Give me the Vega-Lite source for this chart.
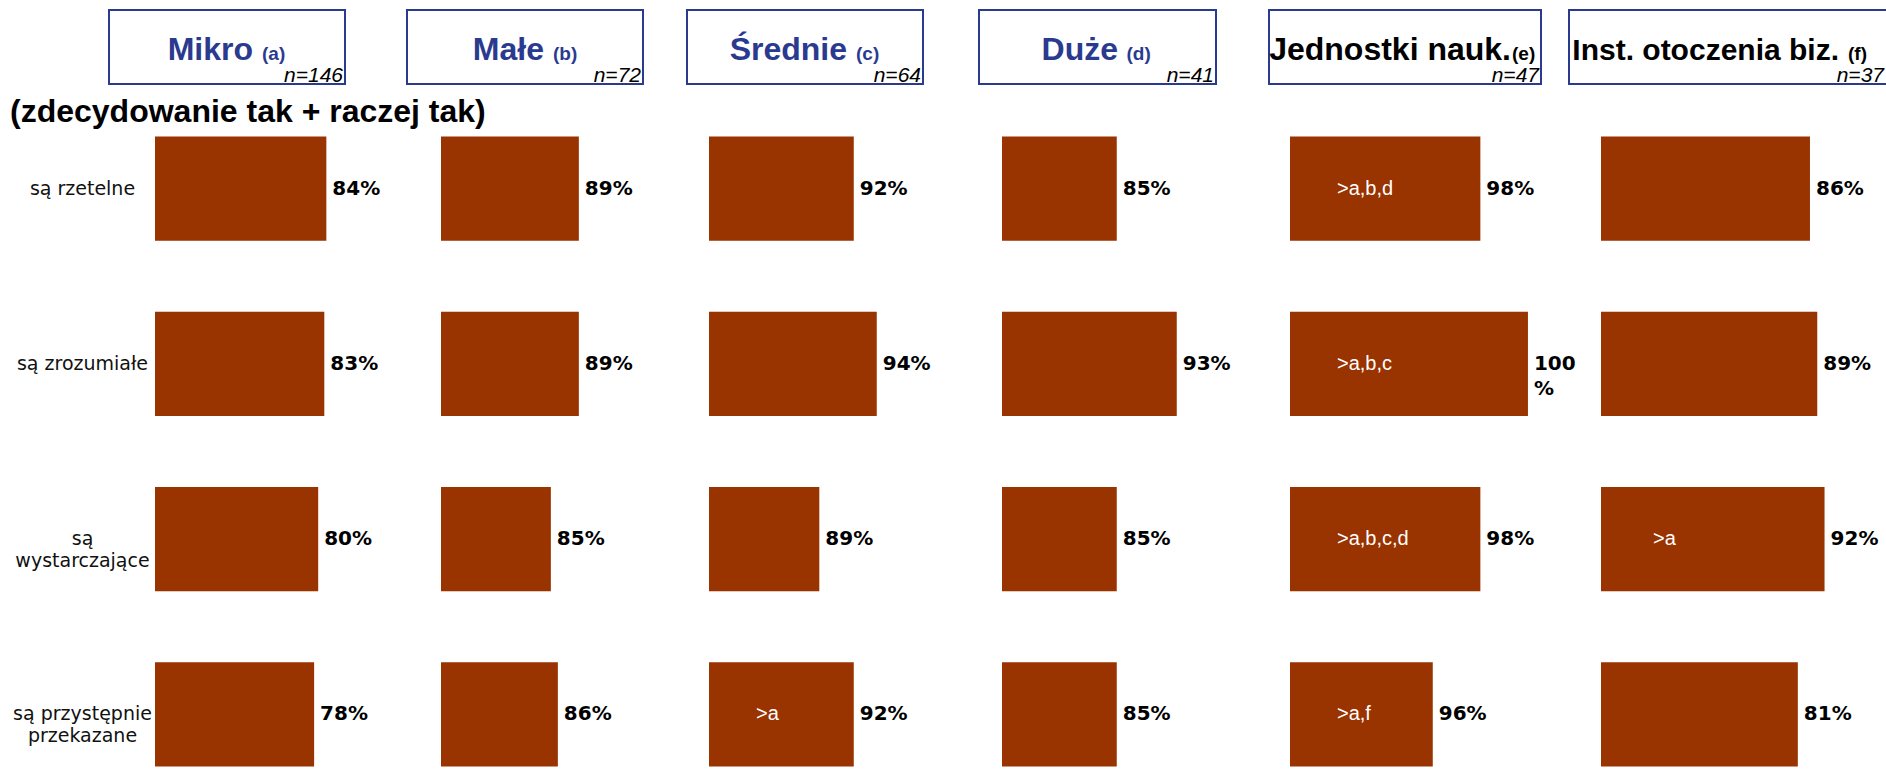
{
  "$schema": "https://vega.github.io/schema/vega-lite/v6.json",
  "background": "white",
  "padding": {"left": 9, "top": 9, "right": 0, "bottom": 0},
  "datasets": {
    "d": [
      {"group": "Mikro", "item": "są rzetelne", "value": 0.84, "ann": ""},
      {"group": "Mikro", "item": "są zrozumiałe", "value": 0.83, "ann": ""},
      {"group": "Mikro", "item": "są\nwystarczające", "value": 0.80, "ann": ""},
      {"group": "Mikro", "item": "są przystępnie\nprzekazane", "value": 0.78, "ann": ""},
      {"group": "Małe", "item": "są rzetelne", "value": 0.89, "ann": ""},
      {"group": "Małe", "item": "są zrozumiałe", "value": 0.89, "ann": ""},
      {"group": "Małe", "item": "są\nwystarczające", "value": 0.85, "ann": ""},
      {"group": "Małe", "item": "są przystępnie\nprzekazane", "value": 0.86, "ann": ""},
      {"group": "Średnie", "item": "są rzetelne", "value": 0.92, "ann": ""},
      {"group": "Średnie", "item": "są zrozumiałe", "value": 0.94, "ann": ""},
      {"group": "Średnie", "item": "są\nwystarczające", "value": 0.89, "ann": ""},
      {"group": "Średnie", "item": "są przystępnie\nprzekazane", "value": 0.92, "ann": ">a"},
      {"group": "Duże", "item": "są rzetelne", "value": 0.85, "ann": ""},
      {"group": "Duże", "item": "są zrozumiałe", "value": 0.93, "ann": ""},
      {"group": "Duże", "item": "są\nwystarczające", "value": 0.85, "ann": ""},
      {"group": "Duże", "item": "są przystępnie\nprzekazane", "value": 0.85, "ann": ""},
      {"group": "Jednostki", "item": "są rzetelne", "value": 0.98, "ann": ">a,b,d"},
      {"group": "Jednostki", "item": "są zrozumiałe", "value": 1.00, "ann": ">a,b,c"},
      {"group": "Jednostki", "item": "są\nwystarczające", "value": 0.98, "ann": ">a,b,c,d"},
      {"group": "Jednostki", "item": "są przystępnie\nprzekazane", "value": 0.96, "ann": ">a,f"},
      {"group": "Inst", "item": "są rzetelne", "value": 0.86, "ann": ""},
      {"group": "Inst", "item": "są zrozumiałe", "value": 0.89, "ann": ""},
      {"group": "Inst", "item": "są\nwystarczające", "value": 0.92, "ann": ">a"},
      {"group": "Inst", "item": "są przystępnie\nprzekazane", "value": 0.81, "ann": ""}
    ]
  },
  "config": {
    "view": {"stroke": null},
    "font": "Liberation Sans"
  },
  "spacing": 9,
  "vconcat": [
    {
      "spacing": 0,
      "bounds": "flush",
      "hconcat": [
        {
          "width": 99, "height": 74,
          "view": {"stroke": "transparent"},
          "data": {"values": [{"t": ""}]},
          "mark": {"type": "text"},
          "encoding": {"text": {"field": "t"}}
        },
        {
          "spacing": 62,
          "bounds": "flush",
          "hconcat": [
            {
              "width": 236, "height": 74,
              "view": {"stroke": "#2a3b8f", "strokeWidth": 2, "fill": "white"},
              "data": {"values": [{"main": "Mikro", "sub": "(a)", "n": "n=146"}]},
              "layer": [
                {"mark": {"type": "text", "fontSize": 32, "fontWeight": "bold", "color": "#2a3b8f", "align": "right", "baseline": "alphabetic", "dx": 26, "dy": 12.5}, "encoding": {"text": {"field": "main"}}},
                {"mark": {"type": "text", "fontSize": 19, "fontWeight": "bold", "color": "#2a3b8f", "align": "left", "baseline": "alphabetic", "dx": 35, "dy": 12.5}, "encoding": {"text": {"field": "sub"}}},
                {"mark": {"type": "text", "fontSize": 21, "fontStyle": "italic", "color": "black", "align": "right", "baseline": "alphabetic", "dx": 116, "dy": 35}, "encoding": {"text": {"field": "n"}}}
              ]
            },
            {
              "spacing": 44,
              "bounds": "flush",
              "hconcat": [
                {
                  "width": 236, "height": 74,
                  "view": {"stroke": "#2a3b8f", "strokeWidth": 2, "fill": "white"},
                  "data": {"values": [{"main": "Małe", "sub": "(b)", "n": "n=72"}]},
                  "layer": [
                    {"mark": {"type": "text", "fontSize": 32, "fontWeight": "bold", "color": "#2a3b8f", "align": "right", "baseline": "alphabetic", "dx": 19, "dy": 12.5}, "encoding": {"text": {"field": "main"}}},
                    {"mark": {"type": "text", "fontSize": 19, "fontWeight": "bold", "color": "#2a3b8f", "align": "left", "baseline": "alphabetic", "dx": 28, "dy": 12.5}, "encoding": {"text": {"field": "sub"}}},
                    {"mark": {"type": "text", "fontSize": 21, "fontStyle": "italic", "color": "black", "align": "right", "baseline": "alphabetic", "dx": 116, "dy": 35}, "encoding": {"text": {"field": "n"}}}
                  ]
                },
                {
                  "spacing": 56,
                  "bounds": "flush",
                  "hconcat": [
                    {
                      "width": 236, "height": 74,
                      "view": {"stroke": "#2a3b8f", "strokeWidth": 2, "fill": "white"},
                      "data": {"values": [{"main": "Średnie", "sub": "(c)", "n": "n=64"}]},
                      "layer": [
                        {"mark": {"type": "text", "fontSize": 32, "fontWeight": "bold", "color": "#2a3b8f", "align": "right", "baseline": "alphabetic", "dx": 42, "dy": 12.5}, "encoding": {"text": {"field": "main"}}},
                        {"mark": {"type": "text", "fontSize": 19, "fontWeight": "bold", "color": "#2a3b8f", "align": "left", "baseline": "alphabetic", "dx": 51, "dy": 12.5}, "encoding": {"text": {"field": "sub"}}},
                        {"mark": {"type": "text", "fontSize": 21, "fontStyle": "italic", "color": "black", "align": "right", "baseline": "alphabetic", "dx": 116, "dy": 35}, "encoding": {"text": {"field": "n"}}}
                      ]
                    },
                    {
                      "spacing": 53,
                      "bounds": "flush",
                      "hconcat": [
                        {
                          "width": 237, "height": 74,
                          "view": {"stroke": "#2a3b8f", "strokeWidth": 2, "fill": "white"},
                          "data": {"values": [{"main": "Duże", "sub": "(d)", "n": "n=41"}]},
                          "layer": [
                            {"mark": {"type": "text", "fontSize": 32, "fontWeight": "bold", "color": "#2a3b8f", "align": "right", "baseline": "alphabetic", "dx": 20.5, "dy": 12.5}, "encoding": {"text": {"field": "main"}}},
                            {"mark": {"type": "text", "fontSize": 19, "fontWeight": "bold", "color": "#2a3b8f", "align": "left", "baseline": "alphabetic", "dx": 29, "dy": 12.5}, "encoding": {"text": {"field": "sub"}}},
                            {"mark": {"type": "text", "fontSize": 21, "fontStyle": "italic", "color": "black", "align": "right", "baseline": "alphabetic", "dx": 116.5, "dy": 35}, "encoding": {"text": {"field": "n"}}}
                          ]
                        },
                        {
                          "spacing": 28,
                          "bounds": "flush",
                          "hconcat": [
                            {
                              "width": 272, "height": 74,
                              "view": {"stroke": "#2a3b8f", "strokeWidth": 2, "fill": "white"},
                              "data": {"values": [{"main": "Jednostki nauk.", "sub": "(e)", "n": "n=47"}]},
                              "layer": [
                                {"mark": {"type": "text", "fontSize": 32, "fontWeight": "bold", "color": "black", "align": "right", "baseline": "alphabetic", "dx": 106, "dy": 12.5}, "encoding": {"text": {"field": "main"}}},
                                {"mark": {"type": "text", "fontSize": 19, "fontWeight": "bold", "color": "black", "align": "left", "baseline": "alphabetic", "dx": 107, "dy": 12.5}, "encoding": {"text": {"field": "sub"}}},
                                {"mark": {"type": "text", "fontSize": 21, "fontStyle": "italic", "color": "black", "align": "right", "baseline": "alphabetic", "dx": 134, "dy": 35}, "encoding": {"text": {"field": "n"}}}
                              ]
                            },
                            {
                              "width": 320, "height": 74,
                              "view": {"stroke": "#2a3b8f", "strokeWidth": 2, "fill": "white"},
                              "data": {"values": [{"main": "Inst. otoczenia biz.", "sub": "(f)", "n": "n=37"}]},
                              "layer": [
                                {"mark": {"type": "text", "fontSize": 30, "fontWeight": "bold", "color": "black", "align": "right", "baseline": "alphabetic", "dx": 110, "dy": 12.5}, "encoding": {"text": {"field": "main"}}},
                                {"mark": {"type": "text", "fontSize": 19, "fontWeight": "bold", "color": "black", "align": "left", "baseline": "alphabetic", "dx": 119, "dy": 12.5}, "encoding": {"text": {"field": "sub"}}},
                                {"mark": {"type": "text", "fontSize": 21, "fontStyle": "italic", "color": "black", "align": "right", "baseline": "alphabetic", "dx": 155, "dy": 35}, "encoding": {"text": {"field": "n"}}}
                              ]
                            }
                          ]
                        }
                      ]
                    }
                  ]
                }
              ]
            }
          ]
        }
      ]
    },
    {
      "title": {"text": "(zdecydowanie tak + raczej tak)", "anchor": "start", "frame": "bounds", "fontSize": 32, "fontWeight": "bold", "font": "Liberation Sans", "color": "black", "dx": 0},
      "data": {"name": "d"},
      "spacing": 0,
      "hconcat": [
        {
          "width": 145, "height": 637,
          "transform": [{"filter": "datum.group === 'Mikro'"}],
          "mark": {"type": "text", "font": "DejaVu Sans", "fontSize": 19, "color": "#111111", "align": "center", "baseline": "middle", "lineBreak": "\n", "lineHeight": 22},
          "encoding": {
            "y": {"field": "item", "type": "nominal", "sort": null, "scale": {"type": "band", "paddingInner": 0.406, "paddingOuter": 0.02}, "axis": null},
            "text": {"field": "item"}
          }
        },
        {
          "width": 286, "height": 637,
          "transform": [{"filter": "datum.group === 'Mikro'"}],
          "encoding": {
            "y": {"field": "item", "type": "nominal", "sort": null, "scale": {"paddingInner": 0.406, "paddingOuter": 0.02}, "axis": null}
          },
          "layer": [
            {"mark": {"type": "bar", "color": "#993300"}, "encoding": {"x": {"field": "value", "type": "quantitative", "scale": {"domain": [0, 1.402], "nice": false, "zero": false, "clamp": true}, "axis": null}}},
            {"mark": {"type": "text", "align": "left", "baseline": "middle", "dx": 6, "font": "DejaVu Sans", "fontWeight": "bold", "fontSize": 20, "color": "black"}, "encoding": {"x": {"field": "value", "type": "quantitative"}, "text": {"field": "value", "format": ".0%"}}}
          ]
        },
        {
          "width": 268, "height": 637,
          "transform": [{"filter": "datum.group === 'Małe'"}],
          "encoding": {
            "y": {"field": "item", "type": "nominal", "sort": null, "scale": {"paddingInner": 0.406, "paddingOuter": 0.02}, "axis": null}
          },
          "layer": [
            {"mark": {"type": "bar", "color": "#993300"}, "encoding": {"x": {"field": "value", "type": "quantitative", "scale": {"domain": [0.693, 1.076], "nice": false, "zero": false, "clamp": true}, "axis": null}}},
            {"mark": {"type": "text", "align": "left", "baseline": "middle", "dx": 6, "font": "DejaVu Sans", "fontWeight": "bold", "fontSize": 20, "color": "black"}, "encoding": {"x": {"field": "value", "type": "quantitative"}, "text": {"field": "value", "format": ".0%"}}}
          ]
        },
        {
          "width": 293, "height": 637,
          "transform": [{"filter": "datum.group === 'Średnie'"}],
          "encoding": {
            "y": {"field": "item", "type": "nominal", "sort": null, "scale": {"paddingInner": 0.406, "paddingOuter": 0.02}, "axis": null}
          },
          "layer": [
            {"mark": {"type": "bar", "color": "#993300"}, "encoding": {"x": {"field": "value", "type": "quantitative", "scale": {"domain": [0.794, 1.049], "nice": false, "zero": false, "clamp": true}, "axis": null}}},
            {"mark": {"type": "text", "align": "left", "baseline": "middle", "dx": 6, "font": "DejaVu Sans", "fontWeight": "bold", "fontSize": 20, "color": "black"}, "encoding": {"x": {"field": "value", "type": "quantitative"}, "text": {"field": "value", "format": ".0%"}}},
            {"transform": [{"filter": "datum.ann !== ''"}], "mark": {"type": "text", "align": "left", "baseline": "middle", "dx": 47, "fontSize": 20, "color": "white"}, "encoding": {"x": {"datum": 0.794, "type": "quantitative"}, "text": {"field": "ann"}}}
          ]
        },
        {
          "width": 288, "height": 637,
          "transform": [{"filter": "datum.group === 'Duże'"}],
          "encoding": {
            "y": {"field": "item", "type": "nominal", "sort": null, "scale": {"paddingInner": 0.406, "paddingOuter": 0.02}, "axis": null}
          },
          "layer": [
            {"mark": {"type": "bar", "color": "#993300"}, "encoding": {"x": {"field": "value", "type": "quantitative", "scale": {"domain": [0.697, 1.081], "nice": false, "zero": false, "clamp": true}, "axis": null}}},
            {"mark": {"type": "text", "align": "left", "baseline": "middle", "dx": 6, "font": "DejaVu Sans", "fontWeight": "bold", "fontSize": 20, "color": "black"}, "encoding": {"x": {"field": "value", "type": "quantitative"}, "text": {"field": "value", "format": ".0%"}}}
          ]
        },
        {
          "width": 311, "height": 637,
          "transform": [{"filter": "datum.group === 'Jednostki'"}],
          "encoding": {
            "y": {"field": "item", "type": "nominal", "sort": null, "scale": {"paddingInner": 0.406, "paddingOuter": 0.02}, "axis": null}
          },
          "layer": [
            {"mark": {"type": "bar", "color": "#993300"}, "encoding": {"x": {"field": "value", "type": "quantitative", "scale": {"domain": [0.90, 1.0307], "nice": false, "zero": false, "clamp": true}, "axis": null}}},
            {"mark": {"type": "text", "align": "left", "baseline": "middle", "dx": 6, "font": "DejaVu Sans", "fontWeight": "bold", "fontSize": 20, "lineHeight": 25, "color": "black"}, "encoding": {"x": {"field": "value", "type": "quantitative"}, "text": {"condition": {"test": "datum.value >= 1", "value": ["100", " %"]}, "field": "value", "format": ".0%"}}},
            {"transform": [{"filter": "datum.ann !== ''"}], "mark": {"type": "text", "align": "left", "baseline": "middle", "dx": 47, "fontSize": 20, "color": "white"}, "encoding": {"x": {"datum": 0.90, "type": "quantitative"}, "text": {"field": "ann"}}}
          ]
        },
        {
          "width": 286, "height": 637,
          "transform": [{"filter": "datum.group === 'Inst'"}],
          "encoding": {
            "y": {"field": "item", "type": "nominal", "sort": null, "scale": {"paddingInner": 0.406, "paddingOuter": 0.02}, "axis": null}
          },
          "layer": [
            {"mark": {"type": "bar", "color": "#993300"}, "encoding": {"x": {"field": "value", "type": "quantitative", "scale": {"domain": [0, 1.177], "nice": false, "zero": false, "clamp": true}, "axis": null}}},
            {"mark": {"type": "text", "align": "left", "baseline": "middle", "dx": 6, "font": "DejaVu Sans", "fontWeight": "bold", "fontSize": 20, "color": "black"}, "encoding": {"x": {"field": "value", "type": "quantitative"}, "text": {"field": "value", "format": ".0%"}}},
            {"transform": [{"filter": "datum.ann !== ''"}], "mark": {"type": "text", "align": "left", "baseline": "middle", "dx": 52, "fontSize": 20, "color": "white"}, "encoding": {"x": {"datum": 0, "type": "quantitative"}, "text": {"field": "ann"}}}
          ]
        }
      ]
    }
  ]
}
